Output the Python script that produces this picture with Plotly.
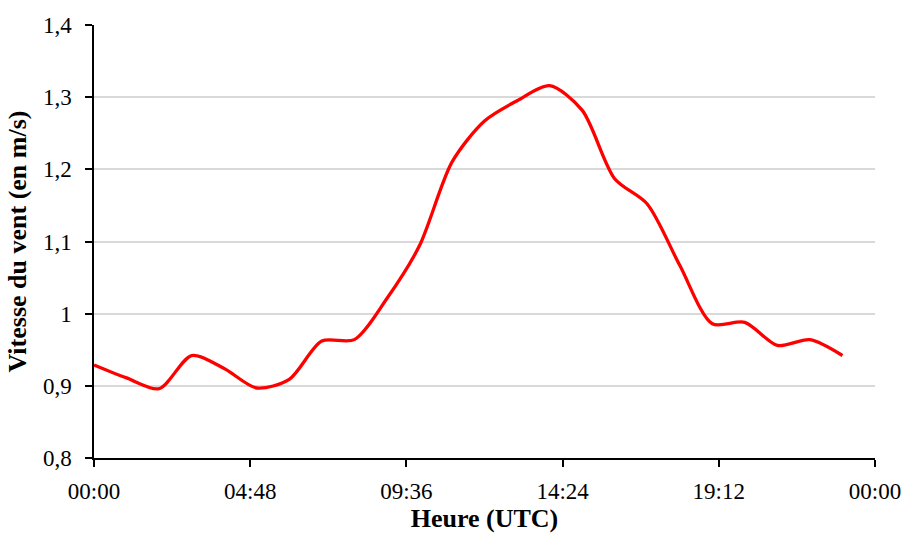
import plotly.graph_objects as go

# hourly wind speed (m/s), UTC
heures = [0, 1, 2, 3, 4, 5, 6, 7, 8, 9, 10, 11,
          12, 13, 14, 15, 16, 17, 18, 19, 20, 21, 22, 23]
vitesse = [0.929, 0.911, 0.896, 0.942, 0.924, 0.897, 0.909, 0.962, 0.964, 1.021, 1.094, 1.210,
           1.267, 1.295, 1.316, 1.282, 1.187, 1.152, 1.067, 0.986, 0.988, 0.956, 0.964, 0.942]

x_ticks = [0, 4.8, 9.6, 14.4, 19.2, 24]
x_labels = ["00:00", "04:48", "09:36", "14:24", "19:12", "00:00"]

fig = go.Figure(go.Scatter(x=heures, y=vitesse, mode="lines",
                           line=dict(color="#ff0000", width=3.3, shape="spline", smoothing=0.8)))

fig.update_layout(
    width=905, height=533,
    margin=dict(l=94, r=30, t=25, b=75),
    plot_bgcolor="white", paper_bgcolor="white",
    separators=", ",
    font=dict(family="Liberation Serif", size=23, color="black"),
    showlegend=False,
    xaxis=dict(range=[0, 24], tickvals=x_ticks, ticktext=x_labels,
               showline=True, linecolor="black", linewidth=1.5,
               ticks="outside", ticklen=7, tickwidth=1.5, tickcolor="black",
               ticklabelstandoff=5, automargin=False,
               showgrid=False, zeroline=False,
               title=dict(text="<b>Heure (UTC)</b>", font=dict(size=26), standoff=13)),
    yaxis=dict(range=[0.8, 1.4], dtick=0.1, tick0=0.8,
               showline=True, linecolor="black", linewidth=1.5,
               ticks="outside", ticklen=7, tickwidth=1.5, tickcolor="black",
               ticklabelstandoff=9, automargin=False,
               showgrid=True, gridcolor="#d9d9d9", gridwidth=1.5, zeroline=False,
               title=dict(text="<b>Vitesse du vent (en m/s)</b>", font=dict(size=26), standoff=9)),
)

# drop the default 8px body margin so the figure fills the window
fig.write_html("out.html", config={"displayModeBar": False},
               post_script="document.body.style.margin = '0';")
